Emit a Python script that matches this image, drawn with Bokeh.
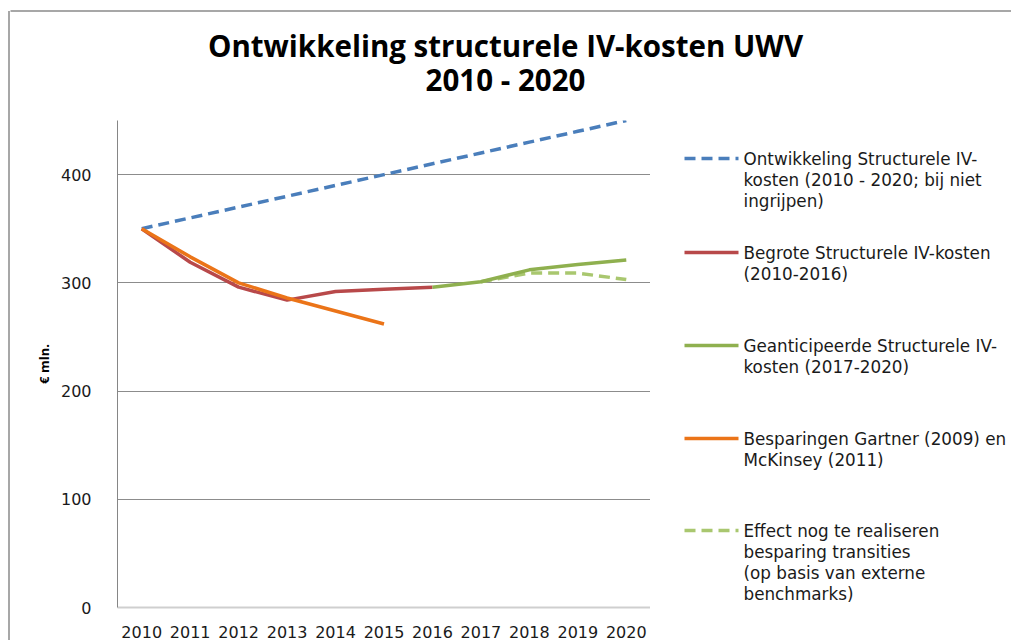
from bokeh.plotting import figure
from bokeh.layouts import column, row
from bokeh.models import FactorRange, Range1d, FixedTicker
from bokeh.core.properties import value
from bokeh.embed import file_html
from bokeh.resources import INLINE

years = ["2010", "2011", "2012", "2013", "2014", "2015", "2016", "2017", "2018", "2019", "2020"]
ontwikkeling = [350, 360, 370, 380, 390, 400, 410, 420, 430, 440, 450]
begroot_years = years[:7]
begroot = [350, 319, 296, 284, 292, 294, 296]
gartner_years = years[:6]
gartner = [350, 324, 300, 286, 274, 262]
geant_years = years[6:]
geant = [296, 301, 312, 317, 321]
effect_years = years[7:]
effect = [301, 309, 309, 303]
y_ticks = [0, 100, 200, 300, 400]

title_lines = ["Ontwikkeling structurele IV-kosten UWV", "2010 - 2020"]
legend_texts = [
    ["Ontwikkeling Structurele IV-", "kosten (2010 - 2020; bij niet", "ingrijpen)"],
    ["Begrote Structurele IV-kosten", "(2010-2016)"],
    ["Geanticipeerde Structurele IV-", "kosten (2017-2020)"],
    ["Besparingen Gartner (2009) en", "McKinsey (2011)"],
    ["Effect nog te realiseren", "besparing transities", "(op basis van externe", "benchmarks)"],
]

FONT = "DejaVu Sans"
BORDER = "#8a8a8a"
C_BLUE, C_RED, C_GREEN, C_ORANGE, C_LGREEN = "#4A7EBB", "#B8494A", "#8FB04F", "#EB7418", "#A9C76F"
DASH = "11 6"
LW = 3.5

W, H = 1011, 640
TITLE_H = 100
FL, FR, FT, FB = 117, 650, 120, 607   # page coords of the plot area
STRIP_W = 10


def blank(width, height, xr, yr, **kw):
    f = figure(width=width, height=height, x_range=xr, y_range=yr, x_axis_type=None,
               y_axis_type=None, output_backend="svg", toolbar_location=None, **kw)
    f.outline_line_color = None
    f.background_fill_color = "white"
    f.border_fill_color = "white"
    return f


# --- left border strip (full height)
s = blank(STRIP_W, H, Range1d(0, STRIP_W), Range1d(H, 0), min_border=0)
s.line([8.5, 8.5], [10.5, H], line_color=BORDER, line_width=1.5)

# --- title strip
t = blank(W - STRIP_W, TITLE_H, Range1d(STRIP_W, W), Range1d(TITLE_H, 0), min_border=0)
t.line([STRIP_W - 2, W], [10.5, 10.5], line_color=BORDER, line_width=1.5)
t.text(x=[505, 505], y=[45, 79], text=title_lines, text_align="center", text_baseline="middle",
       text_font=value("Open Sans"), text_font_style="bold", text_font_size="29.5px",
       text_color="black")

# --- main chart
p = figure(width=FR - STRIP_W, height=H - TITLE_H, x_range=FactorRange(*years),
           y_range=Range1d(0, 450), output_backend="svg", toolbar_location=None,
           min_border_left=FL - STRIP_W, min_border_right=0,
           min_border_top=FT - TITLE_H, min_border_bottom=H - FB)
p.outline_line_color = None
p.background_fill_color = "white"
p.border_fill_color = "white"

p.xgrid.grid_line_color = None
p.ygrid.ticker = FixedTicker(ticks=[100, 200, 300, 400])
p.ygrid.grid_line_color = "#8c8c8c"
p.ygrid.grid_line_width = 1

p.yaxis.ticker = FixedTicker(ticks=y_ticks)
p.yaxis.axis_line_color = "#868686"
p.yaxis.major_tick_line_color = None
p.yaxis.minor_tick_line_color = None
p.yaxis.major_label_standoff = 20
p.yaxis.major_label_text_font = FONT
p.yaxis.major_label_text_font_size = "16px"
p.yaxis.major_label_text_color = "#1a1a1a"
p.yaxis.axis_label = "€ mln."
p.yaxis.axis_label_text_font = "Open Sans"
p.yaxis.axis_label_text_font_style = "bold"
p.yaxis.axis_label_text_font_size = "13px"
p.yaxis.axis_label_text_color = "black"
p.yaxis.axis_label_standoff = 5

p.xaxis.axis_line_color = "#cfcfcf"
p.xaxis.axis_line_width = 2
p.xaxis.major_tick_line_color = None
p.xaxis.minor_tick_line_color = None
p.xaxis.major_label_standoff = 12
p.xaxis.major_label_text_font = FONT
p.xaxis.major_label_text_font_size = "16px"
p.xaxis.major_label_text_color = "#1a1a1a"

p.line(years, ontwikkeling, line_color=C_BLUE, line_width=LW, line_dash=DASH)
p.line(begroot_years, begroot, line_color=C_RED, line_width=LW)
p.line(effect_years, effect, line_color=C_LGREEN, line_width=LW, line_dash=DASH)
p.line(geant_years, geant, line_color=C_GREEN, line_width=LW)
p.line(gartner_years, gartner, line_color=C_ORANGE, line_width=LW)

# --- legend panel (page pixel coordinates; same borders as the chart so frames line up)
lg = blank(W - FR, H - TITLE_H, Range1d(FR, W), Range1d(FB, FT),
           min_border_left=0, min_border_right=0,
           min_border_top=FT - TITLE_H, min_border_bottom=H - FB)
item_tops = [158, 252, 345, 438, 530]
styles = [(C_BLUE, DASH), (C_RED, "solid"), (C_GREEN, "solid"), (C_ORANGE, "solid"),
          (C_LGREEN, DASH)]
for top, lines, (col, dash) in zip(item_tops, legend_texts, styles):
    lg.line([684, 738], [top, top], line_color=col, line_width=LW, line_dash=dash)
    lg.text(x=[743] * len(lines), y=[top + 21 * j for j in range(len(lines))], text=lines,
            text_align="left", text_baseline="middle", text_font=value(FONT),
            text_font_size="16.8px", text_color="#1a1a1a")

layout = row(s, column(t, row(p, lg, spacing=0), spacing=0), spacing=0)
open("out.html", "w").write(file_html(layout, INLINE))
